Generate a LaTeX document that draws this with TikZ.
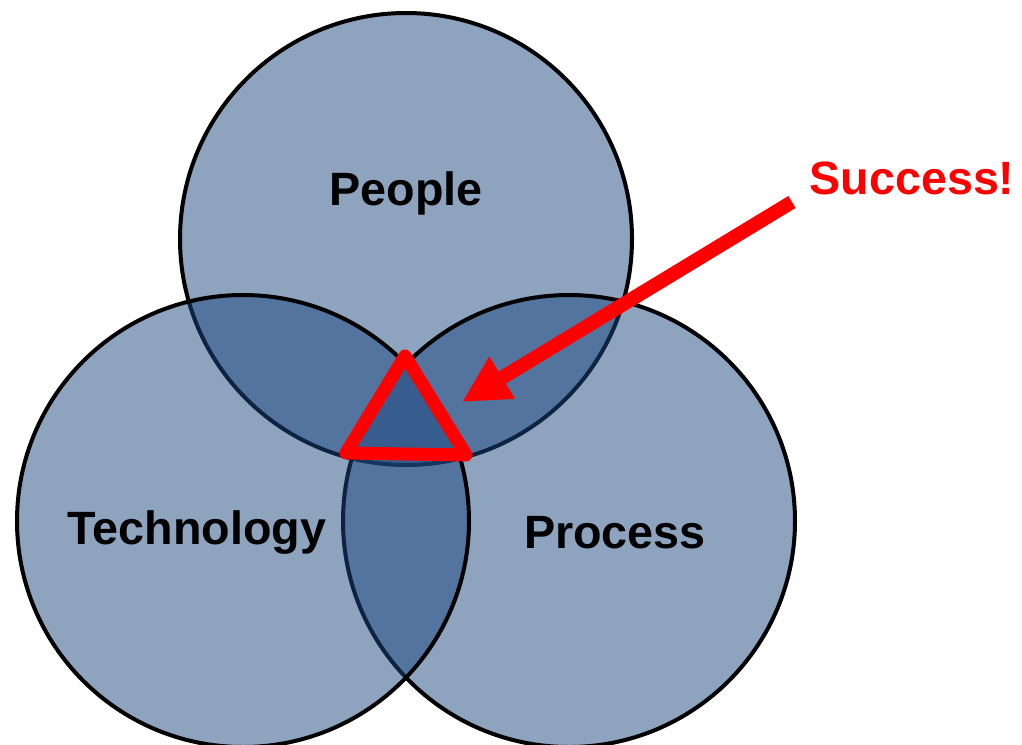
\documentclass[tikz,border=0pt]{standalone}
\usepackage{fontspec}
\setmainfont{Liberation Sans}
\usetikzlibrary{arrows.meta}
\definecolor{vennblue}{RGB}{27,71,126}
\definecolor{succred}{RGB}{255,0,0}
\tikzset{
  venn/.style={draw=black, line width=4pt, fill=vennblue, fill opacity=0.5},
  venntext/.style={font=\fontsize{46.7}{56}\selectfont\bfseries, text=black},
}
\begin{document}
\begin{tikzpicture}[x=1pt,y=-1pt]
        \useasboundingbox (0,0) rectangle (1022,744);
        % Circles (people first, technology on top)
        \draw[venn] (406,239) circle (226);
        \draw[venn] (569,521) circle (226);
        \draw[venn] (243,521) circle (226);
        % Labels
        \node[venntext] (people) at (406,193) {People};
        \node[venntext] (tech) at (197,533) {Technology};
        \node[venntext] (process) at (615,533) {Process};
        % Centre triangle
        \draw[succred, line width=13pt, line join=round] (405,356) -- (346,453) -- (466,455) -- cycle;
        % Arrow
        \node[venntext, text=succred] (success) at (912,178) {Success!};
        \coordinate (tail) at (792,202);
        \coordinate (tip) at (462,402);
        \draw[succred, line width=14pt, -{Triangle[length=47pt,width=46pt]}] (tail) -- (tip);
    \end{tikzpicture}
\end{document}
